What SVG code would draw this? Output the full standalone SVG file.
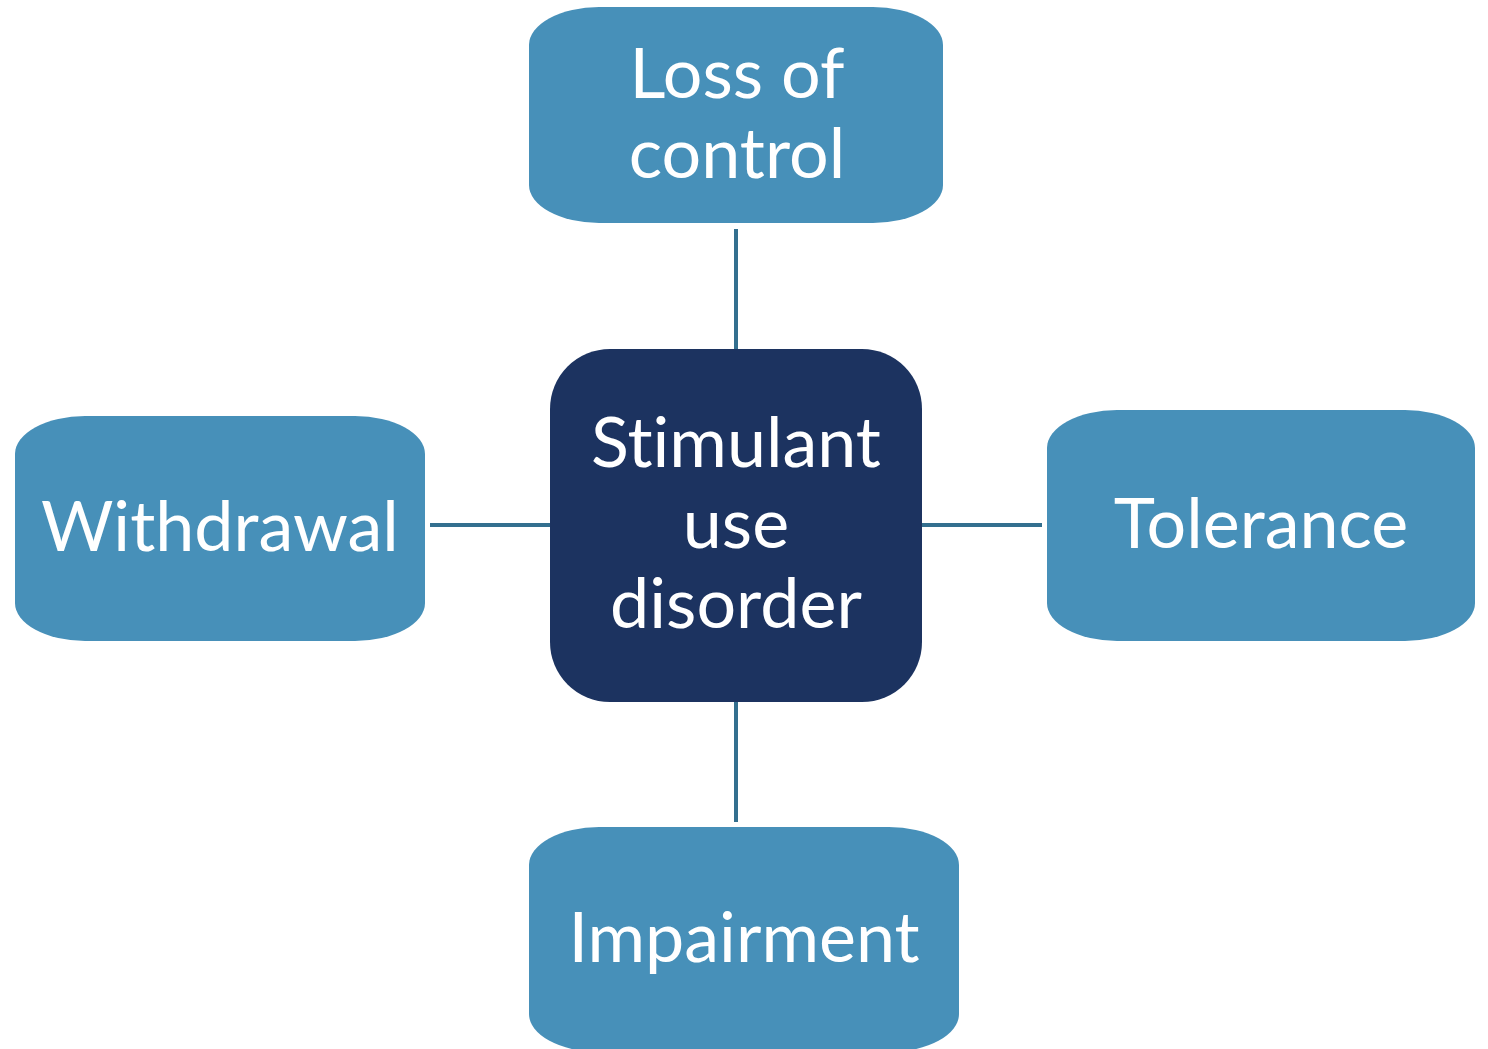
<svg xmlns="http://www.w3.org/2000/svg" width="1488" height="1049" viewBox="0 0 1488 1049">
<style>
.outer{fill:#4790b9}
.center{fill:#1c3360}
.lbl{font-family:Lato,"Open Sans","Liberation Sans",sans-serif;font-size:70px;fill:#ffffff;text-anchor:middle;font-variant-ligatures:none;font-feature-settings:"liga" 0}
.conn{stroke:#336f8f;stroke-width:4;fill:none}
</style>
<rect width="1488" height="1049" fill="#ffffff"/>
<g id="connectors">
<line class="conn" x1="736" y1="229" x2="736" y2="350"/>
<line class="conn" x1="736" y1="702" x2="736" y2="822"/>
<line class="conn" x1="430" y1="525" x2="551" y2="525"/>
<line class="conn" x1="922" y1="525" x2="1042" y2="525"/>
</g>
<g id="loss-of-control">
<rect class="outer" x="529" y="7" width="414" height="216" rx="70" ry="38"/>
<text class="lbl" x="737" y="98">Loss of</text>
<text class="lbl" x="737" y="178">control</text>
</g>
<g id="withdrawal">
<rect class="outer" x="15" y="416" width="410" height="225" rx="70" ry="38"/>
<text class="lbl" x="220" y="551">Withdrawal</text>
</g>
<g id="tolerance">
<rect class="outer" x="1047" y="410" width="428" height="231" rx="70" ry="38"/>
<text class="lbl" x="1261" y="548">Tolerance</text>
</g>
<g id="impairment">
<rect class="outer" x="529" y="827" width="430" height="225" rx="70" ry="38"/>
<text class="lbl" x="744" y="962">Impairment</text>
</g>
<g id="stimulant-use-disorder">
<rect class="center" x="550" y="349" width="372" height="353" rx="60" ry="60"/>
<text class="lbl" x="736" y="467">Stimulant</text>
<text class="lbl" x="736" y="548">use</text>
<text class="lbl" x="736" y="628">disorder</text>
</g>
</svg>
